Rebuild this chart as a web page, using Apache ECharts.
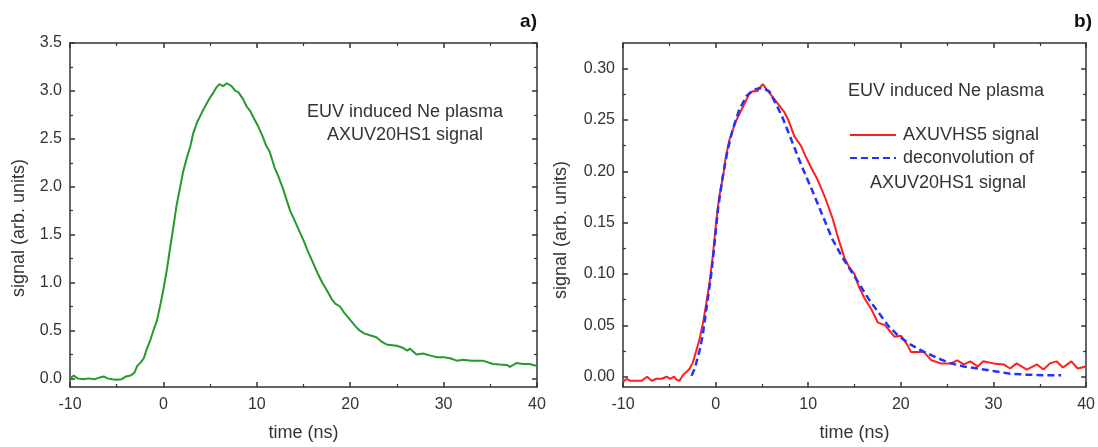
<!DOCTYPE html>
<html><head><meta charset="utf-8">
<script src="https://cdn.jsdelivr.net/npm/echarts@6/dist/echarts.min.js"></script>
<style>html,body{margin:0;padding:0;background:#fff}#c{width:1098px;height:447px}</style>
</head><body><div id="c"></div>
<script>
// ---- data: panel a) AXUV20HS1 signal ----
const timeA = [-10,-9.6,-9.2,-8.6,-8.0,-7.4,-6.8,-6.4,-6.0,-5.5,-5.0,-4.5,-4.0,-3.5,-3.1,-2.8,-2.4,-2.1,-1.8,-1.4,-1.0,-0.7,-0.3,0.0,0.4,0.7,1.1,1.4,1.8,2.1,2.5,2.9,3.2,3.6,4.0,4.3,4.7,5.0,5.4,5.7,6.0,6.4,6.8,7.3,7.7,8.0,8.5,8.9,9.3,9.6,10.1,10.6,11.0,11.4,11.9,12.3,12.8,13.2,13.6,13.9,14.4,15.0,15.5,16.0,16.5,17.0,17.5,18.0,18.4,18.9,19.4,20.0,20.5,21.0,21.5,22.1,22.8,23.4,24.0,25.0,25.6,26.1,26.4,27.1,27.8,28.5,29.3,30.0,30.7,31.4,32.1,33.0,34.2,35.3,36.0,36.8,37.1,37.8,38.5,39.2,40.0];
const signalA = [0.00,0.03,0.00,-0.01,0.00,-0.01,0.01,0.02,0.00,-0.01,-0.015,-0.01,0.02,0.03,0.06,0.13,0.17,0.21,0.30,0.40,0.52,0.60,0.78,0.93,1.15,1.35,1.60,1.80,2.00,2.15,2.30,2.43,2.56,2.67,2.75,2.81,2.88,2.93,2.99,3.04,3.07,3.05,3.08,3.05,3.00,2.99,2.92,2.84,2.79,2.73,2.64,2.53,2.43,2.36,2.20,2.11,1.98,1.86,1.74,1.68,1.57,1.44,1.32,1.21,1.10,1.00,0.92,0.83,0.78,0.75,0.68,0.61,0.55,0.50,0.47,0.45,0.43,0.38,0.35,0.34,0.32,0.29,0.31,0.25,0.26,0.24,0.22,0.22,0.21,0.185,0.195,0.185,0.185,0.15,0.145,0.14,0.12,0.16,0.15,0.15,0.13];

// ---- data: panel b) AXUVHS5 signal ----
const timeRed = [-10,-9.6,-9.2,-8.6,-8.0,-7.4,-6.9,-6.4,-5.8,-5.3,-4.9,-4.5,-4.2,-3.9,-3.5,-3.1,-2.8,-2.45,-2.1,-1.7,-1.35,-1.0,-0.65,-0.3,0.05,0.4,0.8,1.1,1.5,2.2,2.9,3.6,4.0,4.5,4.9,5.1,5.4,6.1,6.8,7.4,7.9,8.5,9.2,9.7,10.4,11.0,11.8,12.6,13.3,13.9,14.4,15.0,15.4,16.1,16.8,17.5,18.3,19.3,20.0,20.7,21.1,22.5,23.3,24.3,25.4,26.1,26.8,27.5,28.3,28.9,30.0,31.1,31.8,32.5,33.6,34.7,35.4,36.1,36.8,37.5,38.4,39.1,40.0];
const signalRed = [-0.005,-0.002,-0.004,-0.004,-0.004,0.000,-0.004,-0.002,-0.002,0.000,-0.002,0.000,-0.003,-0.004,0.002,0.005,0.008,0.014,0.025,0.038,0.053,0.072,0.092,0.118,0.150,0.176,0.195,0.214,0.231,0.249,0.262,0.275,0.278,0.278,0.283,0.285,0.281,0.273,0.265,0.258,0.249,0.234,0.225,0.215,0.202,0.192,0.175,0.155,0.133,0.116,0.107,0.100,0.089,0.076,0.066,0.053,0.050,0.039,0.040,0.031,0.024,0.024,0.016,0.013,0.013,0.016,0.012,0.015,0.010,0.015,0.013,0.012,0.008,0.013,0.007,0.012,0.007,0.013,0.015,0.009,0.015,0.008,0.010];

// ---- data: panel b) deconvolution of AXUV20HS1 signal ----
const timeBlue = [-2.6,-2.25,-1.75,-1.4,-1.0,-0.5,-0.1,0.25,0.77,1.3,1.85,2.55,3.3,4.0,4.7,5.1,5.8,6.5,7.2,7.9,8.6,9.3,10.4,11.5,12.6,13.7,14.7,15.6,16.5,17.55,18.6,19.7,21.1,22.55,24.0,25.4,26.8,28.3,30.0,31.8,33.6,35.4,37.3];
const signalBlue = [0.001,0.008,0.025,0.040,0.066,0.098,0.131,0.163,0.195,0.221,0.241,0.260,0.273,0.279,0.281,0.281,0.278,0.266,0.253,0.237,0.221,0.205,0.182,0.158,0.134,0.116,0.102,0.089,0.076,0.063,0.050,0.040,0.031,0.024,0.018,0.013,0.010,0.008,0.0055,0.003,0.002,0.0015,0.0015];

// ---- tick values ----
const yTicksA = [0,0.5,1.0,1.5,2.0,2.5,3.0,3.5];
const yMinorA = [0.25,0.75,1.25,1.75,2.25,2.75,3.25];
const yTicksB = [0,0.05,0.10,0.15,0.20,0.25,0.30];
const yMinorB = [0.025,0.075,0.125,0.175,0.225,0.275];

const xTitle = 'time (ns)';
const yTitle = 'signal (arb. units)';
const nameRed = 'AXUVHS5 signal';
const nameBlue = 'deconvolution of AXUV20HS1 signal';

const FONT = "'Liberation Sans', Arial, sans-serif";
const AC = '#333';

function zip(a,b){ return a.map((v,i)=>[v,b[i]]); }

function xAx(grid, pos){
  return {
    type:'value', gridIndex:grid, position:pos, min:-10, max:40, interval:10,
    axisLine:{show:true, onZero:false, lineStyle:{color:AC,width:1.5}},
    axisTick:{show:true, inside:true, length:5, lineStyle:{color:AC,width:1.5}},
    minorTick:{show:true, splitNumber:2, length:3, lineStyle:{color:AC,width:1.2}},
    splitLine:{show:false}, minorSplitLine:{show:false},
    axisLabel:{show:pos==='bottom', margin:10, color:AC, fontSize:16, fontFamily:FONT},
    name: pos==='bottom' ? xTitle : '', nameLocation:'middle', nameGap:37,
    nameTextStyle:{color:AC, fontSize:18, fontFamily:FONT}
  };
}
function yAx(grid, pos, ticks, minor, min, max, dec){
  const major = {
    type:'value', gridIndex:grid, position:pos, min:min, max:max,
    axisLine:{show:true, onZero:false, lineStyle:{color:AC,width:1.5}},
    axisTick:{show:true, inside:true, length:5, customValues:ticks, lineStyle:{color:AC,width:1.5}},
    splitLine:{show:false},
    axisLabel:{show:pos==='left', customValues:ticks, margin:8, color:AC, fontSize:16, fontFamily:FONT,
      formatter:v=>Number(v).toFixed(dec)}
  };
  const mnr = {
    type:'value', gridIndex:grid, position:pos, min:min, max:max,
    axisLine:{show:false, onZero:false},
    axisTick:{show:true, inside:true, length:3, customValues:minor, lineStyle:{color:AC,width:1.2}},
    splitLine:{show:false}, axisLabel:{show:false}
  };
  return [major, mnr];
}

const option = {
  animation:false,
  backgroundColor:'#fff',
  textStyle:{fontFamily:FONT},
  grid:[
    {left:70, right:561, top:43, bottom:59},
    {left:623, right:9, top:43, bottom:59}
  ],
  xAxis:[xAx(0,'bottom'), xAx(0,'top'), xAx(1,'bottom'), xAx(1,'top')],
  yAxis:[
    ...yAx(0,'left',yTicksA,yMinorA,-0.09,3.5,1),
    ...yAx(0,'right',yTicksA,yMinorA,-0.09,3.5,1),
    ...yAx(1,'left',yTicksB,yMinorB,-0.01,0.325,2),
    ...yAx(1,'right',yTicksB,yMinorB,-0.01,0.325,2)
  ],
  legend:{
    orient:'vertical', left:849, top:126, padding:0, itemGap:5,
    itemWidth:46, itemHeight:14,
    itemStyle:{opacity:0},
    textStyle:{fontSize:18, color:AC, fontFamily:FONT, padding:[0,0,0,2]},
    data:[nameRed, nameBlue],
    formatter: n => n === nameBlue ? 'deconvolution of' : n
  },
  series:[
    {type:'line', name:'AXUV20HS1 signal', xAxisIndex:0, yAxisIndex:0, data:zip(timeA,signalA),
     symbol:'none', lineStyle:{color:'#26992b', width:2}, itemStyle:{color:'#26992b'}},
    {type:'line', name:nameRed, xAxisIndex:2, yAxisIndex:4, data:zip(timeRed,signalRed),
     symbol:'none', lineStyle:{color:'#ff1f1f', width:2}, itemStyle:{color:'#ff1f1f'}, z:3},
    {type:'line', name:nameBlue, xAxisIndex:2, yAxisIndex:4, data:zip(timeBlue,signalBlue),
     symbol:'none', lineStyle:{color:'#2233ff', width:2.5, type:[7,4]}, itemStyle:{color:'#2233ff'}, z:4}
  ],
  graphic:[
    {type:'text', x:537, y:22, style:{text:'a)', font:'bold 19px '+FONT, fill:'#111', align:'right', verticalAlign:'middle'}},
    {type:'text', x:1092, y:22, style:{text:'b)', font:'bold 19px '+FONT, fill:'#111', align:'right', verticalAlign:'middle'}},
    {type:'text', x:19, y:228, rotation:Math.PI/2, style:{text:yTitle, font:'18px '+FONT, fill:AC, align:'center', verticalAlign:'middle'}},
    {type:'text', x:561, y:230, rotation:Math.PI/2, style:{text:yTitle, font:'18px '+FONT, fill:AC, align:'center', verticalAlign:'middle'}},
    {type:'text', x:405, y:112, style:{text:'EUV induced Ne plasma', font:'18px '+FONT, fill:AC, align:'center', verticalAlign:'middle'}},
    {type:'text', x:405, y:135, style:{text:'AXUV20HS1 signal', font:'18px '+FONT, fill:AC, align:'center', verticalAlign:'middle'}},
    {type:'text', x:946, y:91, style:{text:'EUV induced Ne plasma', font:'18px '+FONT, fill:AC, align:'center', verticalAlign:'middle'}},
    {type:'text', x:948, y:183, style:{text:'AXUV20HS1 signal', font:'18px '+FONT, fill:AC, align:'center', verticalAlign:'middle'}}
  ]
};
const chart = echarts.init(document.getElementById('c'), null, {renderer:'canvas'});
chart.setOption(option);
</script>
</body></html>
